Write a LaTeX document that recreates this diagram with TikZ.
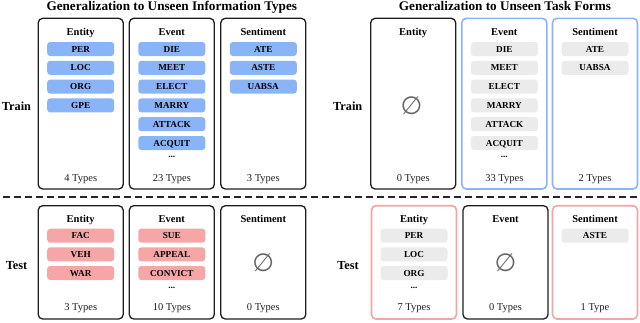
\documentclass[tikz,border=0pt]{standalone}
\usepackage{fontspec}
\setmainfont{Liberation Serif}
\newfontfamily\symfont{DejaVu Sans}
\definecolor{pillblue}{HTML}{8AB4F8}
\definecolor{pillred}{HTML}{F6A6A6}
\definecolor{pillgray}{HTML}{EBEBEB}
\definecolor{edgeblue}{HTML}{8AB4F8}
\definecolor{edgered}{HTML}{F4A4A4}
\definecolor{edgeblack}{HTML}{1E1E1E}
\definecolor{symgray}{HTML}{666666}
\begin{document}
\begin{tikzpicture}[x=1pt,y=-1pt,
  panel/.style={draw=#1, line width=1.3pt, rounded corners=4.5pt, minimum width=85pt, inner sep=0pt},
  trainpanel/.style={panel=#1, minimum height=170.7pt},
  testpanel/.style={panel=#1, minimum height=113.3pt},
  colouredge/.style={line width=1.6pt},
  pill/.style={fill=#1, rounded corners=3pt, minimum width=67pt, minimum height=14pt, inner sep=0pt,
    text height=6pt, text depth=0pt, font=\fontsize{9.2}{9.2}\selectfont\bfseries},
  heading/.style={anchor=base, font=\fontsize{10.5}{10.5}\selectfont\bfseries},
  count/.style={anchor=base, font=\fontsize{10.5}{10.5}\selectfont, text=black!88},
  dots/.style={anchor=base, font=\fontsize{9.2}{9.2}\selectfont\bfseries},
  rowlabel/.style={anchor=base, font=\fontsize{12.3}{12.3}\selectfont\bfseries},
  title/.style={anchor=base, font=\fontsize{13.2}{13.2}\selectfont\bfseries},
  emptyset/.style={font=\symfont\fontsize{25}{25}\selectfont, text=symgray, inner sep=0pt}]
\useasboundingbox (0,0) rectangle (640,322);

% titles
\node[title] (t1) at (171.8,10.5) {Generalization to Unseen Information Types};
\node[title] (t2) at (505,10.5) {Generalization to Unseen Task Forms};

% row labels
\node[rowlabel] (trainL) at (16.5,110) {Train};
\node[rowlabel] (testL) at (16.5,269) {Test};
\node[rowlabel] (trainR) at (347.7,110) {Train};
\node[rowlabel] (testR) at (348,269) {Test};

% dashed separator
\coordinate (dl) at (3,197);
\coordinate (dr) at (637,197);
\draw[line width=1.2pt, draw=black!85, dash pattern=on 6.5pt off 4.5pt] (dl) -- (dr);

% ===== Left panel: train =====
\node[trainpanel=edgeblack] (LtrE) at (80.7,103.65) {};
\node[trainpanel=edgeblack] (LtrV) at (171.8,103.65) {};
\node[trainpanel=edgeblack] (LtrS) at (263.3,103.65) {};
\node[heading] (LtrEh) at (80.7,35.5) {Entity};
\node[heading] (LtrVh) at (171.8,35.5) {Event};
\node[heading] (LtrSh) at (263.3,35.5) {Sentiment};
\foreach \t [count=\i] in {PER,LOC,ORG,GPE}
  \node[pill=pillblue] (LtrEp\i) at (80.7,{49+18.8*(\i-1)}) {\t};
\foreach \t [count=\i] in {DIE,MEET,ELECT,MARRY,ATTACK,ACQUIT}
  \node[pill=pillblue] (LtrVp\i) at (171.8,{49+18.8*(\i-1)}) {\t};
\foreach \t [count=\i] in {ATE,ASTE,UABSA}
  \node[pill=pillblue] (LtrSp\i) at (263.3,{49+18.8*(\i-1)}) {\t};
\node[dots] (LtrVd) at (171.8,157.5) {...};
\node[count] (LtrEc) at (80.7,181.5) {4 Types};
\node[count] (LtrVc) at (171.8,181.5) {23 Types};
\node[count] (LtrSc) at (263.3,181.5) {3 Types};

% ===== Left panel: test =====
\node[testpanel=edgeblack] (LteE) at (80.7,262.35) {};
\node[testpanel=edgeblack] (LteV) at (171.8,262.35) {};
\node[testpanel=edgeblack] (LteS) at (263.3,262.35) {};
\node[heading] (LteEh) at (80.7,222) {Entity};
\node[heading] (LteVh) at (171.8,222) {Event};
\node[heading] (LteSh) at (263.3,222) {Sentiment};
\foreach \t [count=\i] in {FAC,VEH,WAR}
  \node[pill=pillred] (LteEp\i) at (80.7,{235.7+18.65*(\i-1)}) {\t};
\foreach \t [count=\i] in {SUE,APPEAL,CONVICT}
  \node[pill=pillred] (LteVp\i) at (171.8,{235.7+18.65*(\i-1)}) {\t};
\node[dots] (LteVd) at (171.8,288.2) {...};
\node[emptyset] (LteSe) at (263.3,263) {∅};
\node[count] (LteEc) at (80.7,310.3) {3 Types};
\node[count] (LteVc) at (171.8,310.3) {10 Types};
\node[count] (LteSc) at (263.3,310.3) {0 Types};

% ===== Right panel: train =====
\node[trainpanel=edgeblack] (RtrE) at (413.2,103.65) {};
\node[trainpanel=edgeblue, colouredge] (RtrV) at (504.3,103.65) {};
\node[trainpanel=edgeblue, colouredge] (RtrS) at (595,103.65) {};
\node[heading] (RtrEh) at (413.2,35.5) {Entity};
\node[heading] (RtrVh) at (504.3,35.5) {Event};
\node[heading] (RtrSh) at (595,35.5) {Sentiment};
\node[emptyset] (RtrEe) at (411.5,105.3) {∅};
\foreach \t [count=\i] in {DIE,MEET,ELECT,MARRY,ATTACK,ACQUIT}
  \node[pill=pillgray] (RtrVp\i) at (504.3,{49+18.8*(\i-1)}) {\t};
\foreach \t [count=\i] in {ATE,UABSA}
  \node[pill=pillgray] (RtrSp\i) at (595,{49+18.8*(\i-1)}) {\t};
\node[dots] (RtrVd) at (504.3,157.5) {...};
\node[count] (RtrEc) at (413.2,181.5) {0 Types};
\node[count] (RtrVc) at (504.3,181.5) {33 Types};
\node[count] (RtrSc) at (595,181.5) {2 Types};

% ===== Right panel: test =====
\node[testpanel=edgered, colouredge] (RteE) at (414,262.35) {};
\node[testpanel=edgeblack] (RteV) at (505.5,262.35) {};
\node[testpanel=edgered, colouredge] (RteS) at (595,262.35) {};
\node[heading] (RteEh) at (414,222) {Entity};
\node[heading] (RteVh) at (505.5,222) {Event};
\node[heading] (RteSh) at (595,222) {Sentiment};
\foreach \t [count=\i] in {PER,LOC,ORG}
  \node[pill=pillgray] (RteEp\i) at (414,{235.7+18.65*(\i-1)}) {\t};
\node[dots] (RteEd) at (414,288.2) {...};
\node[emptyset] (RteVe) at (505.5,263) {∅};
\node[pill=pillgray] (RteSp1) at (595,235.7) {ASTE};
\node[count] (RteEc) at (414,310.3) {7 Types};
\node[count] (RteVc) at (505.5,310.3) {0 Types};
\node[count] (RteSc) at (595,310.3) {1 Type};
\end{tikzpicture}
\end{document}
